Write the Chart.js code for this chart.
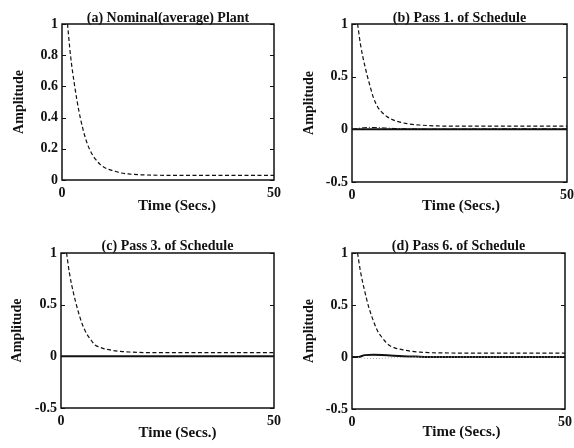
<!DOCTYPE html>
<html>
<head>
<meta charset="utf-8">
<script src="https://cdn.jsdelivr.net/npm/chart.js@4.4.1/dist/chart.umd.min.js"></script>
<style>
  html, body { margin: 0; padding: 0; background: #fff; }
  #wrap { position: relative; width: 574px; height: 448px; overflow: hidden; background: #fff; }
  .panel { position: absolute; width: 287px; height: 224px; }
  canvas { display: block; }
</style>
</head>
<body>
<div id="wrap">
  <div class="panel" style="left:0;top:0"><canvas id="pa" width="287" height="224"></canvas></div>
  <div class="panel" style="left:287px;top:0"><canvas id="pb" width="287" height="224"></canvas></div>
  <div class="panel" style="left:0;top:224px"><canvas id="pc" width="287" height="224"></canvas></div>
  <div class="panel" style="left:287px;top:224px"><canvas id="pd" width="287" height="224"></canvas></div>
</div>
<script>
// Time samples (seconds) for the decaying reference response
const decayTime = [1.3, 2, 3, 4, 5, 6, 7, 8, 9, 10, 12, 14, 16, 18, 20, 25, 30, 35, 40, 45, 50];

// Dashed responses, one per panel
const nominalResponse = [1.0, 0.80, 0.60, 0.44, 0.32, 0.23, 0.17, 0.13, 0.10, 0.08, 0.06, 0.045, 0.038, 0.034, 0.032, 0.03, 0.03, 0.03, 0.03, 0.03, 0.03];
const pass1Response   = [1.0, 0.80, 0.60, 0.44, 0.30, 0.21, 0.16, 0.125, 0.10, 0.082, 0.06, 0.047, 0.04, 0.035, 0.032, 0.03, 0.03, 0.03, 0.03, 0.03, 0.03];
const pass3Response   = [1.0, 0.80, 0.60, 0.44, 0.31, 0.22, 0.16, 0.11, 0.09, 0.075, 0.058, 0.048, 0.042, 0.038, 0.036, 0.035, 0.035, 0.035, 0.035, 0.035, 0.035];
const pass6Response   = [1.0, 0.82, 0.63, 0.47, 0.35, 0.25, 0.19, 0.14, 0.105, 0.088, 0.068, 0.055, 0.047, 0.042, 0.04, 0.038, 0.038, 0.038, 0.038, 0.038, 0.038];

// Solid zero-level traces
const zeroTime = [0, 50];
const zeroLevel = [0, 0];

// Pass 1: small dash-dot deviation
const pass1DevTime = [0, 2, 4, 6, 8, 10, 14, 20, 30, 40, 50];
const pass1Dev     = [0, 0.012, 0.018, 0.016, 0.012, 0.008, 0.004, 0.002, 0.004, 0.006, 0.004];

// Pass 6: solid trace with a small bump, and a faint dotted trace below zero
const pass6SolidTime = [0, 1.5, 3, 5, 7, 9, 12, 15, 20, 50];
const pass6Solid     = [0, 0, 0.018, 0.022, 0.02, 0.015, 0.008, 0.004, 0, 0];
const pass6DotTime   = [0, 2, 4, 6, 8, 10, 14, 20, 50];
const pass6Dot       = [0, -0.008, -0.014, -0.014, -0.01, -0.006, -0.002, 0, 0];

// Axis ticks
const timeRange = [0, 50];
const timeStep = 50;

const INK = '#111';
const SERIF = '"Liberation Serif", "Times New Roman", Times, serif';

const toPoints = (xs, ys) => xs.map((x, i) => ({ x, y: ys[i] }));
const trimNumber = v => String(Number(v.toFixed(2)));

function dashedSet(ys) {
  return { data: toPoints(decayTime, ys), borderColor: INK, borderWidth: 1.2,
           borderDash: [4, 2.5], cubicInterpolationMode: 'monotone' };
}
function solidSet(xs, ys) {
  return { data: toPoints(xs, ys), borderColor: INK, borderWidth: 2, cubicInterpolationMode: 'monotone' };
}

// Box around the plot area with short inward ticks on both vertical sides
const frameTicks = {
  id: 'frameTicks',
  afterDatasetsDraw(chart) {
    const { ctx, chartArea: a, scales: { y } } = chart;
    ctx.save();
    ctx.strokeStyle = INK;
    ctx.lineWidth = 1.5;
    ctx.strokeRect(a.left, a.top, a.right - a.left, a.bottom - a.top);
    ctx.lineWidth = 1;
    ctx.beginPath();
    y.ticks.forEach(t => {
      const py = Math.round(y.getPixelForValue(t.value)) + 0.5;
      ctx.moveTo(a.left, py); ctx.lineTo(a.left + 4, py);
      ctx.moveTo(a.right, py); ctx.lineTo(a.right - 4, py);
    });
    ctx.stroke();
    ctx.restore();
  }
};

// Horizontal axis caption
const xCaption = {
  id: 'xCaption',
  afterDraw(chart, args, opts) {
    const { ctx, chartArea: a } = chart;
    ctx.save();
    ctx.fillStyle = INK;
    ctx.font = 'bold 15px ' + SERIF;
    ctx.textAlign = 'center';
    ctx.textBaseline = 'middle';
    ctx.fillText(opts.text, (a.left + a.right) / 2 + opts.dx, opts.y);
    ctx.restore();
  }
};

function makePanel(id, cfg) {
  return new Chart(document.getElementById(id), {
    type: 'line',
    data: { datasets: cfg.datasets },
    options: {
      responsive: false,
      animation: false,
      devicePixelRatio: 1,
      layout: { padding: { left: 0, right: cfg.padRight, top: 0, bottom: 0 } },
      elements: { point: { radius: 0 } },
      plugins: {
        legend: { display: false },
        tooltip: { enabled: false },
        title: {
          display: true, text: cfg.title, fullSize: false, color: INK,
          font: { family: SERIF, size: 14, weight: 'bold', lineHeight: 1 },
          padding: { top: cfg.titleTop, bottom: cfg.titleBottom }
        },
        xCaption: { text: 'Time (Secs.)', dx: cfg.captionDx, y: cfg.captionY }
      },
      scales: {
        x: {
          type: 'linear', min: timeRange[0], max: timeRange[1],
          grid: { display: false, drawTicks: false },
          border: { display: false },
          ticks: { stepSize: timeStep, padding: 5, color: INK, maxRotation: 0,
                   font: { family: SERIF, size: 14, weight: 'bold' } },
          afterFit(s) { s.height = cfg.xHeight; s.paddingLeft = 0; s.paddingRight = 0; }
        },
        y: {
          min: cfg.yMin, max: 1,
          grid: { display: false, drawTicks: false },
          border: { display: false },
          ticks: { stepSize: cfg.yStep, padding: 4, color: INK,
                   callback: trimNumber,
                   font: { family: SERIF, size: 14, weight: 'bold' } },
          title: { display: true, text: 'Amplitude', color: INK,
                   font: { family: SERIF, size: 14, weight: 'bold', lineHeight: 1 },
                   padding: { top: cfg.ytPad, bottom: 0 } },
          afterFit(s) { s.width = cfg.yWidth; s.paddingTop = 0; s.paddingBottom = 0; }
        }
      }
    },
    plugins: [frameTicks, xCaption]
  });
}

makePanel('pa', {
  title: '(a) Nominal(average) Plant',
  datasets: [dashedSet(nominalResponse)],
  yMin: 0, yStep: 0.2,
  yWidth: 62, padRight: 13, titleTop: 11, titleBottom: -1, xHeight: 44,
  ytPad: 12, captionDx: 9, captionY: 206
});

makePanel('pb', {
  title: '(b) Pass 1. of Schedule',
  datasets: [
    solidSet(zeroTime, zeroLevel),
    { data: toPoints(pass1DevTime, pass1Dev), borderColor: INK, borderWidth: 1,
      borderDash: [5, 2, 1, 2], cubicInterpolationMode: 'monotone' },
    dashedSet(pass1Response)
  ],
  yMin: -0.5, yStep: 0.5,
  yWidth: 65, padRight: 7, titleTop: 11, titleBottom: -1, xHeight: 42,
  ytPad: 15, captionDx: 1.5, captionY: 206.5
});

makePanel('pc', {
  title: '(c) Pass 3. of Schedule',
  datasets: [solidSet(zeroTime, zeroLevel), dashedSet(pass3Response)],
  yMin: -0.5, yStep: 0.5,
  yWidth: 61, padRight: 13, titleTop: 15, titleBottom: 0, xHeight: 40,
  ytPad: 10.5, captionDx: 10, captionY: 209
});

makePanel('pd', {
  title: '(d) Pass 6. of Schedule',
  datasets: [
    { data: toPoints(pass6DotTime, pass6Dot), borderColor: '#aaa', borderWidth: 1,
      borderDash: [1, 2], cubicInterpolationMode: 'monotone' },
    solidSet(pass6SolidTime, pass6Solid),
    dashedSet(pass6Response)
  ],
  yMin: -0.5, yStep: 0.5,
  yWidth: 65, padRight: 9, titleTop: 15, titleBottom: 0, xHeight: 39,
  ytPad: 15, captionDx: 3, captionY: 208.5
});
</script>
</body>
</html>
